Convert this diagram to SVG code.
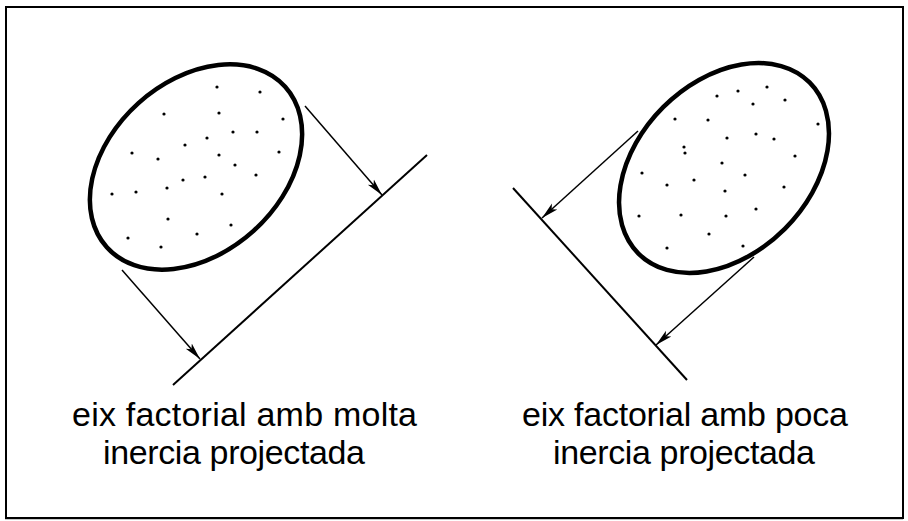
<svg xmlns="http://www.w3.org/2000/svg" width="908" height="521" viewBox="0 0 908 521">
<style>
.frame{fill:none;stroke:#000;stroke-width:2}
.blob{fill:#fff;stroke:#000;stroke-width:4.5}
.axis{stroke:#000;stroke-width:2;fill:none}
.proj{stroke:#000;stroke-width:1.5;fill:none;marker-end:url(#ah)}
.dot{fill:#000}
.lbl{font-family:"Liberation Sans",Arial,sans-serif;font-size:34px;fill:#000}
</style>
<defs>
<marker id="ah" markerUnits="userSpaceOnUse" markerWidth="18" markerHeight="10" refX="17" refY="5" orient="auto">
<path d="M0,1 L17,5 L0,9 L4,5 z" fill="#000"/>
</marker>
</defs>
<rect class="frame" x="6" y="7" width="897" height="511"/>
<line x1="5" y1="519.5" x2="903" y2="519.5" stroke="#c8c8c8" stroke-width="1"/>

<g id="left-panel">
<g id="left-cloud">
<ellipse class="blob" cx="196" cy="167" rx="120" ry="86" transform="rotate(-42 196 167)"/>
<g class="dot">
<circle cx="217" cy="87" r="1.6"/><circle cx="260" cy="92" r="1.6"/><circle cx="164" cy="114" r="1.6"/>
<circle cx="219" cy="113" r="1.6"/><circle cx="283" cy="119" r="1.6"/><circle cx="233" cy="132" r="1.6"/>
<circle cx="257" cy="132" r="1.6"/><circle cx="207" cy="138" r="1.6"/><circle cx="185" cy="145" r="1.6"/>
<circle cx="132" cy="153" r="1.6"/><circle cx="158" cy="159" r="1.6"/><circle cx="219" cy="155" r="1.6"/>
<circle cx="279" cy="152" r="1.6"/><circle cx="235" cy="165" r="1.6"/><circle cx="256" cy="175" r="1.6"/>
<circle cx="183" cy="180" r="1.6"/><circle cx="205" cy="177" r="1.6"/><circle cx="167" cy="188" r="1.6"/>
<circle cx="112" cy="194" r="1.6"/><circle cx="136" cy="192" r="1.6"/><circle cx="222" cy="194" r="1.6"/>
<circle cx="168" cy="219" r="1.6"/><circle cx="231" cy="225" r="1.6"/><circle cx="197" cy="234" r="1.6"/>
<circle cx="128" cy="238" r="1.6"/><circle cx="161" cy="247" r="1.6"/>
</g>
</g>
<g id="left-axis">
<line class="axis" x1="173" y1="385" x2="427" y2="155"/>
</g>
<g id="left-label">
<text class="lbl" x="72" y="426" textLength="345">eix factorial amb molta</text>
<text class="lbl" x="103" y="464" textLength="262">inercia projectada</text>
</g>
</g>

<g id="right-panel">
<g id="right-cloud">
<ellipse class="blob" cx="724" cy="168" rx="121" ry="86" transform="rotate(-45 724 168)"/>
<g class="dot">
<circle cx="717" cy="96" r="1.6"/><circle cx="738" cy="91" r="1.6"/><circle cx="767" cy="87" r="1.6"/>
<circle cx="753" cy="104" r="1.6"/><circle cx="785" cy="100" r="1.6"/><circle cx="675" cy="119" r="1.6"/>
<circle cx="708" cy="120" r="1.6"/><circle cx="818" cy="124" r="1.6"/><circle cx="727" cy="138" r="1.6"/>
<circle cx="756" cy="134" r="1.6"/><circle cx="774" cy="139" r="1.6"/><circle cx="684" cy="147" r="1.6"/>
<circle cx="685" cy="153" r="1.6"/><circle cx="795" cy="156" r="1.6"/><circle cx="722" cy="163" r="1.6"/>
<circle cx="642" cy="173" r="1.6"/><circle cx="745" cy="175" r="1.6"/><circle cx="667" cy="185" r="1.6"/>
<circle cx="694" cy="180" r="1.6"/><circle cx="725" cy="191" r="1.6"/><circle cx="784" cy="187" r="1.6"/>
<circle cx="639" cy="216" r="1.6"/><circle cx="681" cy="215" r="1.6"/><circle cx="726" cy="216" r="1.6"/>
<circle cx="756" cy="209" r="1.6"/><circle cx="709" cy="234" r="1.6"/><circle cx="667" cy="248" r="1.6"/>
<circle cx="743" cy="246" r="1.6"/>
</g>
</g>
<g id="right-axis">
<line class="axis" x1="513" y1="188" x2="687" y2="380"/>
</g>
<g id="right-label">
<text class="lbl" x="522" y="426" textLength="326">eix factorial amb poca</text>
<text class="lbl" x="553" y="464" textLength="262">inercia projectada</text>
</g>
</g>

<g id="connectors">
<line class="proj" x1="305" y1="106" x2="382" y2="195"/>
<line class="proj" x1="122" y1="270" x2="200" y2="359"/>
<line class="proj" x1="638" y1="131" x2="542" y2="218"/>
<line class="proj" x1="754" y1="257" x2="656" y2="345"/>
</g>
</svg>
